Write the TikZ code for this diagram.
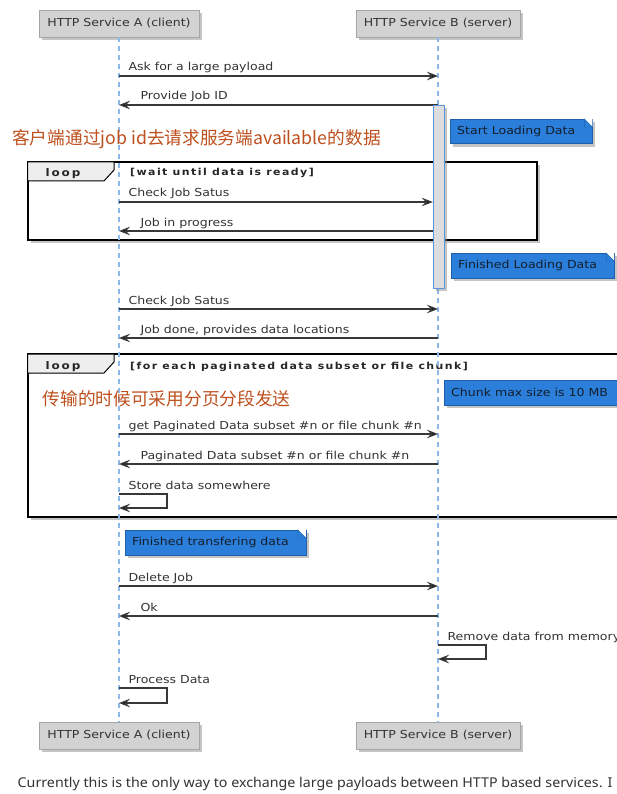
\documentclass[tikz,border=0pt]{standalone}
\usepackage{fontspec}
\usepackage{tikz}
\usetikzlibrary{arrows.meta,shadows}
\setmainfont{DejaVu Sans}
\newfontfamily\umlfont[FakeStretch=1.14]{DejaVu Sans}
\newfontfamily\framefont[FakeStretch=1.14,LetterSpace=15]{DejaVu Sans Bold}
\newfontfamily\tagfont[FakeStretch=1.14,LetterSpace=18]{DejaVu Sans Bold}
\newfontfamily\cjk{Noto Sans CJK SC}
\newfontfamily\capfont[FakeStretch=1.055]{Noto Sans}

\definecolor{lifeblue}{RGB}{140,185,232}
\definecolor{msggray}{RGB}{56,56,56}
\definecolor{txtgray}{RGB}{51,51,51}
\definecolor{actfill}{RGB}{210,210,210}
\definecolor{actedge}{RGB}{165,165,165}
\definecolor{notefill}{RGB}{43,127,218}
\definecolor{noteedge}{RGB}{30,95,170}
\definecolor{notetext}{RGB}{20,30,45}
\definecolor{barfill}{RGB}{221,221,221}
\definecolor{baredge}{RGB}{90,150,220}
\definecolor{tabfill}{RGB}{238,238,238}
\definecolor{rust}{RGB}{190,80,30}

% folded corner of a note
\newcommand{\notecorner}[1]{%
  \fill[white] ([xshift=-8pt]#1.north east) -- (#1.north east) -- ([yshift=-8pt]#1.north east) -- cycle;
  \filldraw[fill=notefill, draw=noteedge] ([xshift=-8pt]#1.north east) -- ([xshift=-8pt,yshift=-8pt]#1.north east) -- ([yshift=-8pt]#1.north east) -- cycle;
}

\begin{document}
\begin{tikzpicture}[x=1pt,y=-1pt,
  myshadow/.style={drop shadow={shadow xshift=3pt,shadow yshift=-3pt,fill=black!45,opacity=0.5}},
  actor/.style={draw=actedge, fill=actfill, text=txtgray, font=\umlfont\fontsize{11pt}{13pt}\selectfont, minimum height=27pt, inner sep=0pt, myshadow},
  lifeline/.style={draw=lifeblue, line width=1.3pt, dash pattern=on 5pt off 4pt},
  frame/.style={draw=black, line width=2pt, fill=white, myshadow},
  looptab/.style={draw=black, line width=1pt, fill=tabfill},
  looptag/.style={font=\tagfont\fontsize{10.5pt}{13pt}\selectfont, text=black!85, anchor=base, inner sep=0pt},
  guard/.style={font=\framefont\fontsize{9.6pt}{11pt}\selectfont, text=black!85, anchor=base west, inner sep=0pt},
  actbar/.style={draw=baredge, fill=barfill, minimum width=11pt, minimum height=183pt, inner sep=0pt, myshadow},
  msg/.style={draw=msggray, line width=1.1pt, -{Stealth[length=11pt,width=8.5pt,inset=4pt,fill=black!90]}},
  msglbl/.style={font=\umlfont\fontsize{11pt}{13pt}\selectfont, text=txtgray, inner sep=0pt},
  fwd/.style={msglbl, pos=0, anchor=base west, xshift=9pt, yshift=5pt},
  back/.style={msglbl, pos=1, anchor=base west, xshift=21pt, yshift=5pt},
  selflbl/.style={msglbl, anchor=base west, xshift=9pt, yshift=5pt},
  notebox/.style={anchor=north west, fill=notefill, draw=noteedge, text=notetext, font=\umlfont\fontsize{11pt}{13pt}\selectfont, inner sep=0pt, minimum height=24.5pt, execute at begin node=\hspace{7pt}, execute at end node=\hspace{17pt}, myshadow},
  cnote/.style={font=\cjk\fontsize{17.7pt}{20pt}\selectfont, text=rust, anchor=base west, inner sep=0pt},
  caption/.style={font=\capfont\fontsize{13.5pt}{16pt}\selectfont, text=txtgray, anchor=base west, inner sep=0pt}]
\useasboundingbox (0,0) rectangle (617,794);
\clip (0,0) rectangle (617,794);
\fill[white] (0,0) rectangle (617,794);

% participants
\node[actor, minimum width=160pt] (topA) at (119,23.5) {HTTP Service A (client)};
\node[actor, minimum width=164pt] (topB) at (438,23.5) {HTTP Service B (server)};
\node[actor, minimum width=160pt] (botA) at (119,735.5) {HTTP Service A (client)};
\node[actor, minimum width=164pt] (botB) at (438,735.5) {HTTP Service B (server)};

% loop frames
\draw[frame] (27.5,162) rectangle (537,240);
\filldraw[looptab] (27.5,162) -- (114,162) -- (114,170) -- (104,181) -- (27.5,181) -- cycle;
\node[looptag] (loop1) at (63,177) {loop};
\node[guard] (guard1) at (130,176) {[wait until data is ready]};

\draw[frame] (27.5,354) rectangle (640,517);
\filldraw[looptab] (27.5,354) -- (114,354) -- (114,362) -- (104,373) -- (27.5,373) -- cycle;
\node[looptag] (loop2) at (63,369) {loop};
\node[guard] (guard2) at (130,369) {[for each paginated data subset or file chunk]};

% lifelines
\draw[lifeline] (topA) -- (botA);
\draw[lifeline] (topB) -- (botB);

% message rows
\foreach \n/\y in {ask/76, jobid/105, chk1/202, prog/231, chk2/309, done/338, get/434, pag/464, store/494, store2/508, del/586, ok/616, rm/645, rm2/659, proc/688, proc2/703}
  {\coordinate (a-\n) at (119,\y); \coordinate (b-\n) at (438,\y);}

\draw[msg] (a-ask) -- (b-ask) node[fwd] {Ask for a large payload};
\draw[msg] (b-jobid) -- (a-jobid) node[back] {Provide Job ID};

\node[actbar] (actB) at (438.5,196.5) {};
\draw[msg] (a-chk1) -- (a-chk1 -| actB.west) node[fwd] {Check Job Satus};
\draw[msg] (a-prog -| actB.west) -- (a-prog) node[back] {Job in progress};

\draw[msg] (a-chk2) -- (b-chk2) node[fwd] {Check Job Satus};
\draw[msg] (b-done) -- (a-done) node[back] {Job done, provides data locations};
\draw[msg] (a-get) -- (b-get) node[fwd] {get Paginated Data subset \#n or file chunk \#n};
\draw[msg] (b-pag) -- (a-pag) node[back] {Paginated Data subset \#n or file chunk \#n};
\draw[msg] (a-store) node[selflbl] {Store data somewhere} -- ++(48,0) |- (a-store2);
\draw[msg] (a-del) -- (b-del) node[fwd] {Delete Job};
\draw[msg] (b-ok) -- (a-ok) node[back] {Ok};
\draw[msg] (b-rm) node[selflbl] {Remove data from memory} -- ++(48,0) |- (b-rm2);
\draw[msg] (a-proc) node[selflbl] {Process Data} -- ++(48,0) |- (a-proc2);

% notes
\node[notebox] (nStart) at (450,119) {Start Loading Data};
\notecorner{nStart}
\node[notebox] (nFinish) at (451,253) {Finished Loading Data};
\notecorner{nFinish}
\node[notebox] (nChunk) at (444,380) {Chunk max size is 10 MB};
\notecorner{nChunk}
\node[notebox] (nTrans) at (125,530) {Finished transfering data};
\notecorner{nTrans}

% annotations
\node[cnote] (cn1) at (12,145) {客户端通过job id去请求服务端available的数据};
\node[cnote] (cn2) at (42.5,405) {传输的时候可采用分页分段发送};

\node[caption] (cap) at (17.5,787) {Currently this is the only way to exchange large payloads between HTTP based services. I};
\end{tikzpicture}
\end{document}
